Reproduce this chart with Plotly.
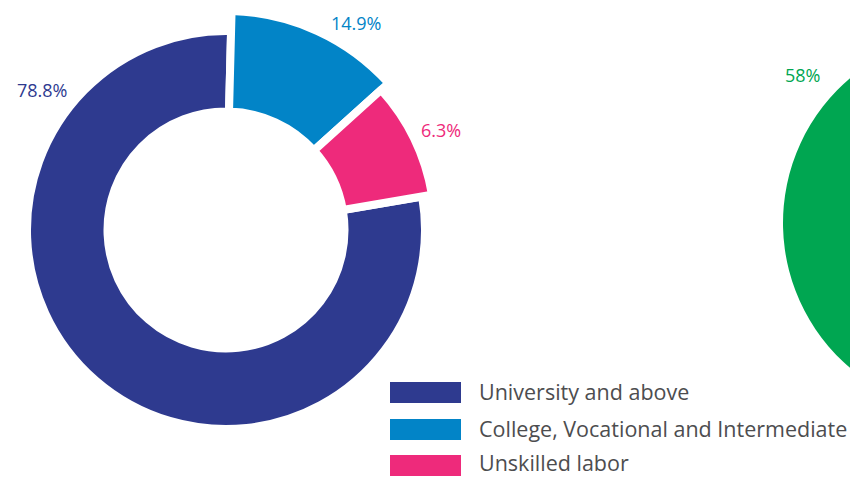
import plotly.graph_objects as go

# ---- data -------------------------------------------------------------
categories = ["University and above", "College, Vocational and Intermediate", "Unskilled labor"]
# slice shares as drawn in the picture
slice_values = [78.1, 12.9, 9.0]
# printed labels
label_texts = ["78.8%", "14.9%", "6.3%"]
colors = ["#2E3A8F", "#0284C7", "#EE2A7B"]

second_categories = ["Other", "Main"]
second_values = [42, 58]
second_label = "58%"
second_colors = ["#8DC63F", "#00A651"]

# ---- layout geometry (pixels) -----------------------------------------
W, H = 1170, 477
CX, CY = 226, 230
R_IN = 122.5
R_OUT = [195, 215, 205]
GAP = 8
ROTATION = 80.3
FONT = "Open Sans"


def dom(cx, cy, r):
    return dict(x=[(cx - r) / W, (cx + r) / W], y=[(H - cy - r) / H, (H - cy + r) / H])


fig = go.Figure()
for i, cat in enumerate(categories):
    r = R_OUT[i] + GAP / 2
    cols = [c if j == i else "rgba(0,0,0,0)" for j, c in enumerate(colors)]
    widths = [GAP if j == i else 0 for j in range(len(colors))]
    fig.add_trace(go.Pie(
        labels=categories, values=slice_values, sort=False,
        direction="clockwise", rotation=ROTATION,
        hole=(R_IN - GAP / 2) / r,
        marker=dict(colors=cols, line=dict(color="white", width=widths)),
        textinfo="none", hoverinfo="skip", showlegend=False,
        domain=dom(CX, CY, r),
    ))

# second (mostly off-screen) pie
fig.add_trace(go.Pie(
    labels=second_categories, values=second_values, sort=False,
    direction="clockwise", rotation=0,
    marker=dict(colors=second_colors, line=dict(width=0)),
    textinfo="none", hoverinfo="skip", showlegend=False,
    domain=dom(973, 223, 190),
))

annotations = []
label_pos = [(42, 90), (356, 23), (441, 130)]
for t, c, (x, y) in zip(label_texts, colors, label_pos):
    annotations.append(dict(x=x / W, y=1 - y / H, xref="paper", yref="paper",
                            text=t, showarrow=False, xanchor="center", yanchor="middle",
                            font=dict(family=FONT, size=18, color=c)))
annotations.append(dict(x=802 / W, y=1 - 75 / H, xref="paper", yref="paper",
                        text=second_label, showarrow=False, xanchor="center", yanchor="middle",
                        font=dict(family=FONT, size=18, color=second_colors[1])))

shapes = []
row_y = [392.5, 429.5, 465.5]
text_y = [391.5, 428.5, 462.5]
for cat, c, y, ty in zip(categories, colors, row_y, text_y):
    shapes.append(dict(type="rect", xref="paper", yref="paper",
                       x0=390 / W, x1=461 / W, y0=1 - (y + 10.5) / H, y1=1 - (y - 10.5) / H,
                       fillcolor=c, line=dict(width=0)))
    annotations.append(dict(x=477 / W, y=1 - ty / H, xref="paper", yref="paper",
                            text=cat, showarrow=False, xanchor="left", yanchor="middle",
                            font=dict(family=FONT, size=21.5, color="#4D4D4F")))

fig.update_layout(
    width=W, height=H, margin=dict(l=0, r=0, t=0, b=0),
    paper_bgcolor="white", plot_bgcolor="white",
    annotations=annotations, shapes=shapes, showlegend=False,
)

fig.write_html("out.html",
               post_script="document.documentElement.style.overflow='hidden';document.body.style.overflow='hidden';document.body.style.margin='0';")
